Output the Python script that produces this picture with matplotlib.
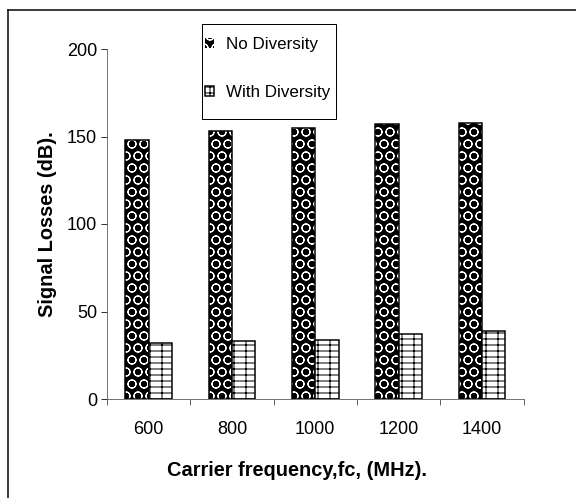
import matplotlib
matplotlib.use("Agg")
import matplotlib.pyplot as plt
import numpy as np
from matplotlib.lines import Line2D
from matplotlib.patches import Rectangle

plt.rcParams['font.family'] = ['Liberation Sans', 'DejaVu Sans']
plt.rcParams['hatch.linewidth'] = 1.0

categories = ["600", "800", "1000", "1200", "1400"]
no_diversity = [148, 153, 155, 157, 158]
with_diversity = [32, 33, 34, 37, 39]
series_labels = ["No Diversity", "With Diversity"]
yticks = [0, 50, 100, 150, 200]

W, H = 576, 498
fig = plt.figure(figsize=(W/72, H/72), dpi=72)
ax = fig.add_axes([107/W, 1-399/H, (523.5-107)/W, (399-49)/H])

x = np.arange(len(categories))
bw = 0.28
b1 = ax.bar(x - bw/2, no_diversity, bw, facecolor='black', edgecolor='white',
            hatch='O', linewidth=0)
ax.bar(x - bw/2, no_diversity, bw, facecolor='none', edgecolor='black', linewidth=1.5)
b2 = ax.bar(x + bw/2, with_diversity, bw, facecolor='white', edgecolor='black',
            hatch='--|', linewidth=1.5)

ax.set_xlim(-0.5, len(categories) - 0.5)
ax.set_ylim(0, 200)
ax.set_yticks(yticks)
ax.set_xticks(x)
ax.set_xticklabels(categories)
ax.set_xticks(np.arange(len(categories) + 1) - 0.5, minor=True)
ax.tick_params(axis='x', which='major', length=0, pad=22, labelsize=18)
ax.tick_params(axis='x', which='minor', length=6, direction='out')
ax.tick_params(axis='y', length=6, direction='out', labelsize=18, pad=4)
for s in ['top', 'right']:
    ax.spines[s].set_visible(False)
ax.spines['left'].set_color('#555555')
ax.spines['bottom'].set_color('#555555')

ax.set_ylabel("Signal Losses (dB).", fontsize=20, fontweight='bold', labelpad=10)
ax.set_xlabel("Carrier frequency,fc, (MHz).", fontsize=20, fontweight='bold')
ax.xaxis.set_label_coords((297-107)/(523.5-107), -(470-399)/(399-49))
ax.xaxis.label.set_va('center')

fig.add_artist(Rectangle((201.7/W, 1-119/H), (335.7-201.7)/W, (119-24.3)/H,
                         transform=fig.transFigure, facecolor='white',
                         edgecolor='black', linewidth=1.0, zorder=5))
leg = fig.legend([b1, b2], series_labels, loc='upper left',
                 bbox_to_anchor=(205/W, 1-37/H),
                 frameon=False, fontsize=17,
                 handlelength=0.5, handleheight=0.5, handletextpad=0.75,
                 labelspacing=1.95, borderpad=0, borderaxespad=0)
leg.set_zorder(6)

# outer border (top and left only visible)
fig.add_artist(Line2D([8/W, 1], [1-10/H, 1-10/H], color='black', lw=1.5, transform=fig.transFigure))
fig.add_artist(Line2D([8/W, 8/W], [0, 1-10/H], color='black', lw=1.5, transform=fig.transFigure))

fig.savefig("out.png", dpi=72, facecolor='white')
